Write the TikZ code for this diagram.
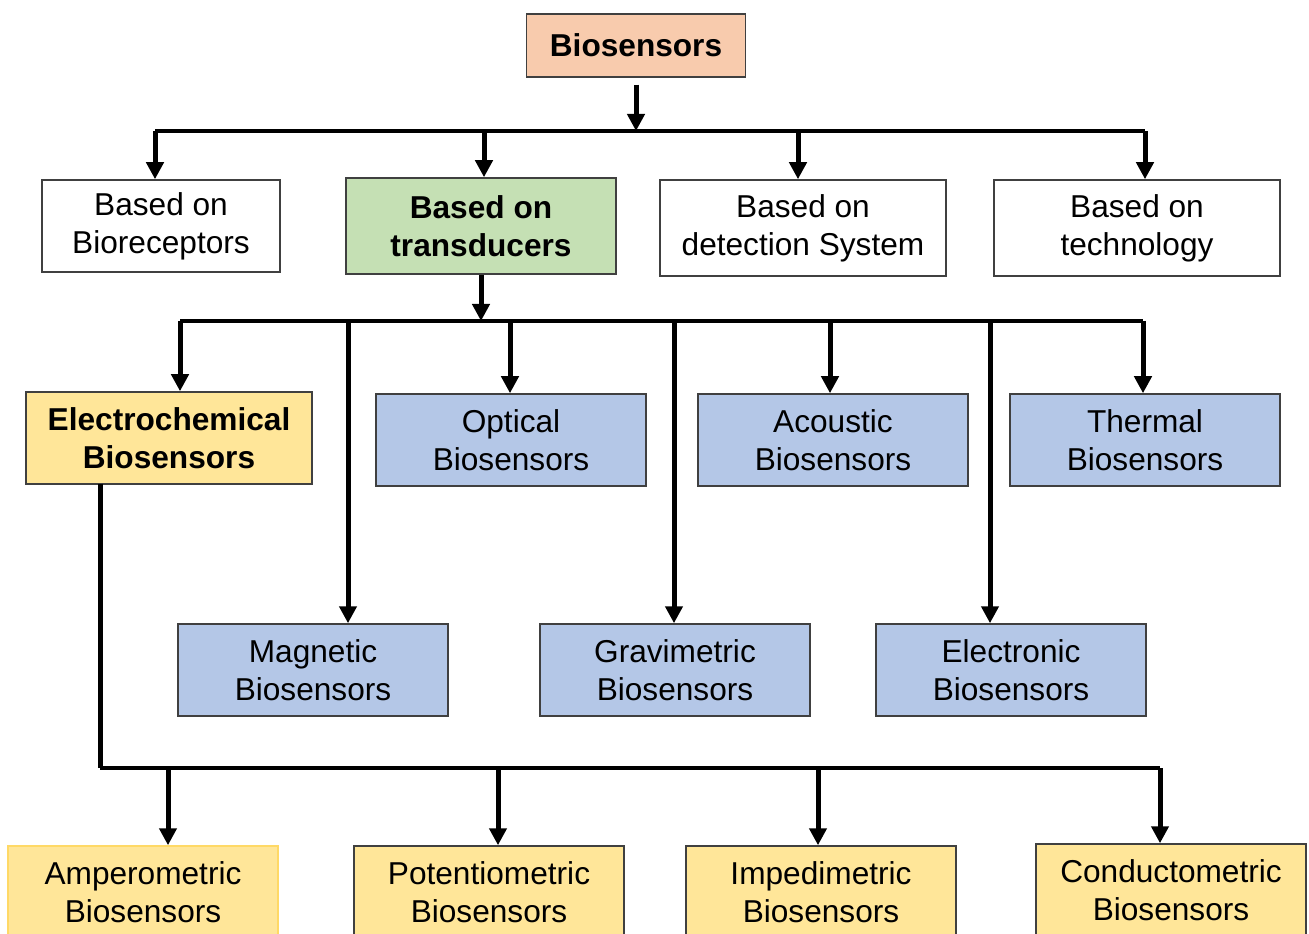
\documentclass[tikz,border=0pt]{standalone}
\usepackage{fontspec}
\setmainfont{Liberation Sans}
\usetikzlibrary{arrows.meta, calc}
\definecolor{peach}{HTML}{F8CBAD}
\definecolor{leaf}{HTML}{C5E0B4}
\definecolor{sand}{HTML}{FFE699}
\definecolor{sky}{HTML}{B4C7E7}
\definecolor{gold}{HTML}{FFD966}
\tikzset{
  box/.style={draw=black!75, line width=0.3mm, align=center, inner sep=2pt,
    minimum width=5.4cm, minimum height=1.84cm, font=\fontsize{18}{21.5}\selectfont},
  bbox/.style={box, font=\fontsize{18}{21.5}\selectfont\bfseries},
  root/.style={bbox, fill=peach, minimum width=4.38cm, minimum height=1.26cm},
  cat/.style={box, fill=white, minimum width=5.72cm, minimum height=1.92cm},
  trn/.style={box, fill=sky},
  ecs/.style={box, fill=sand},
  tra/.style={-{Triangle[length=3.4mm, width=3.4mm]}, line width=1mm},
  bar/.style={line width=0.8mm}
}
\newcommand{\dropto}[2]{\draw[tra] (#1) -- (#1 |- #2.north);}

\begin{document}
\begin{tikzpicture}[x=0.2mm, y=-0.2mm]
  \useasboundingbox (0,0) rectangle (1309,934);
  \clip (0,0) rectangle (1309,934);
  % top
  \node[root] (bio) at (636,45.5) {Biosensors};
  % classification
  \node[cat, minimum width=4.76cm, minimum height=1.84cm] (rec) at (161,226) {Based on\\Bioreceptors};
  \node[bbox, fill=leaf, minimum height=1.92cm] (trd) at (481,226) {Based on\\transducers};
  \node[cat] (det) at (803,228) {Based on\\detection System};
  \node[cat] (tec) at (1137,228) {Based on\\technology};
  % transducer types
  \node[bbox, fill=sand, minimum width=5.72cm] (ecm) at (169,438) {Electrochemical\\Biosensors};
  \node[trn] (opt) at (511,440) {Optical\\Biosensors};
  \node[trn] (aco) at (833,440) {Acoustic\\Biosensors};
  \node[trn] (thm) at (1145,440) {Thermal\\Biosensors};
  \node[trn] (mag) at (313,670) {Magnetic\\Biosensors};
  \node[trn] (grv) at (675,670) {Gravimetric\\Biosensors};
  \node[trn] (elt) at (1011,670) {Electronic\\Biosensors};
  % electrochemical types
  \node[ecs, draw=gold] (amp) at (143,892) {Amperometric\\Biosensors};
  \node[ecs] (pot) at (489,892) {Potentiometric\\Biosensors};
  \node[ecs] (imp) at (821,892) {Impedimetric\\Biosensors};
  \node[ecs] (cnd) at (1171,890) {Conductometric\\Biosensors};

  % first level
  \coordinate (j1) at (636,131);
  \coordinate (r1) at (155,131);
  \coordinate (r2) at (484,131);
  \coordinate (r3) at (798,131);
  \coordinate (r4) at (1145,131);
  \draw[tra, shorten <=1.4mm] (bio) -- (j1);
  \draw[bar] (r1) -- (r4);
  \dropto{r1}{rec}
  \dropto{r2}{trd}
  \dropto{r3}{det}
  \dropto{r4}{tec}

  % second level
  \coordinate (j2) at (481,321);
  \coordinate (s1) at (180,321);
  \coordinate (s2) at (348,321);
  \coordinate (s3) at (510,321);
  \coordinate (s4) at (674,321);
  \coordinate (s5) at (830,321);
  \coordinate (s6) at (990,321);
  \coordinate (s7) at (1143,321);
  \draw[tra] (trd) -- (j2);
  \draw[bar] (s1) -- (s7);
  \dropto{s1}{ecm}
  \dropto{s2}{mag}
  \dropto{s3}{opt}
  \dropto{s4}{grv}
  \dropto{s5}{aco}
  \dropto{s6}{elt}
  \dropto{s7}{thm}

  % third level
  \coordinate (e0) at (100,484);
  \coordinate (j3) at (100,768);
  \coordinate (t1) at (168,768);
  \coordinate (t2) at (498,768);
  \coordinate (t3) at (818,768);
  \coordinate (t4) at (1160,768);
  \draw[line width=1mm] (e0) -- (j3);
  \draw[bar] (j3) -- (t4);
  \dropto{t1}{amp}
  \dropto{t2}{pot}
  \dropto{t3}{imp}
  \dropto{t4}{cnd}
\end{tikzpicture}
\end{document}
